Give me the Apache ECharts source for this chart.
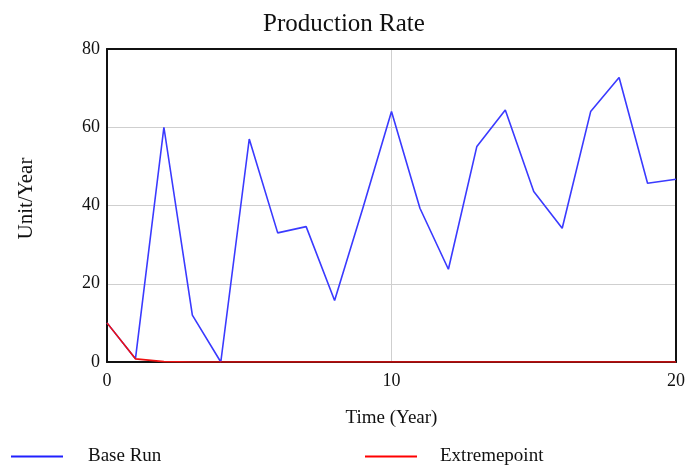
<!DOCTYPE html>
<html>
<head>
<meta charset="utf-8">
<script src="https://cdn.jsdelivr.net/npm/echarts@6/dist/echarts.min.js"></script>
<style>
html,body{margin:0;padding:0;background:#fff;}
#c{width:688px;height:466px;}
</style>
</head>
<body>
<div id="c"></div>
<script>
const years = [0,1,2,3,4,5,6,7,8,9,10,11,12,13,14,15,16,17,18,19,20];
const baseRun = [10,0.8,60,12,0,57,33,34.6,15.7,39.5,64,39.3,23.7,55.1,64.4,43.6,34.2,64,72.7,45.7,46.7];
const extremepoint = [10,0.8,0.1,0,0,0,0,0,0,0,0,0,0,0,0,0,0,0,0,0,0];
const seriesNames = ['Base Run','Extremepoint'];

const font = 'Liberation Serif';
const border = {show:true,onZero:false,lineStyle:{color:'#111',width:2}};
const chart = echarts.init(document.getElementById('c'));
chart.setOption({
  backgroundColor:'#fff',
  animation:false,
  title:{text:'Production Rate',left:'center',top:7,
    textStyle:{fontFamily:font,fontSize:25,fontWeight:'normal',color:'#111'}},
  grid:{left:107,right:9,top:49,bottom:104},
  legend:[
    {data:[seriesNames[0]],left:6,top:442,itemWidth:52,itemHeight:16,icon:'path://M0,0H52V2H0Z',
     textStyle:{fontFamily:font,fontSize:19,color:'#111',padding:[0,0,0,20]}},
    {data:[seriesNames[1]],left:360,top:442,itemWidth:52,itemHeight:16,icon:'path://M0,0H52V2H0Z',
     textStyle:{fontFamily:font,fontSize:19,color:'#111',padding:[0,0,0,18]}}
  ],
  xAxis:[
    {type:'value',min:0,max:20,interval:10,name:'Time (Year)',nameLocation:'middle',nameGap:47,
     nameTextStyle:{fontFamily:font,fontSize:19,color:'#111'},
     axisLine:border,axisTick:{show:false},
     axisLabel:{fontFamily:font,fontSize:18,color:'#111',margin:10},
     splitLine:{show:true,lineStyle:{color:'#cfcfcf',width:1}}},
    {type:'value',min:0,max:20,interval:10,position:'top',
     axisLine:border,axisTick:{show:false},axisLabel:{show:false},splitLine:{show:false}}
  ],
  yAxis:[
    {type:'value',min:0,max:80,interval:20,name:'Unit/Year',nameLocation:'middle',nameGap:70,
     nameTextStyle:{fontFamily:font,fontSize:21,color:'#111',padding:[0,0,0,14]},
     axisLine:border,axisTick:{show:false},
     axisLabel:{fontFamily:font,fontSize:18,color:'#111',margin:7},
     splitLine:{show:true,lineStyle:{color:'#cfcfcf',width:1}}},
    {type:'value',min:0,max:80,interval:20,position:'right',
     axisLine:border,axisTick:{show:false},axisLabel:{show:false},splitLine:{show:false}}
  ],
  series:[
    {name:seriesNames[0],type:'line',data:years.map((t,i)=>[t,baseRun[i]]),showSymbol:false,
     lineStyle:{color:'#3a3aff',width:1.6},itemStyle:{color:'#2020ff'},z:2},
    {name:seriesNames[1],type:'line',data:years.map((t,i)=>[t,extremepoint[i]]),showSymbol:false,
     lineStyle:{color:'#ee1111',width:1.6},itemStyle:{color:'#ff0000'},z:3}
  ]
});
</script>
</body>
</html>
